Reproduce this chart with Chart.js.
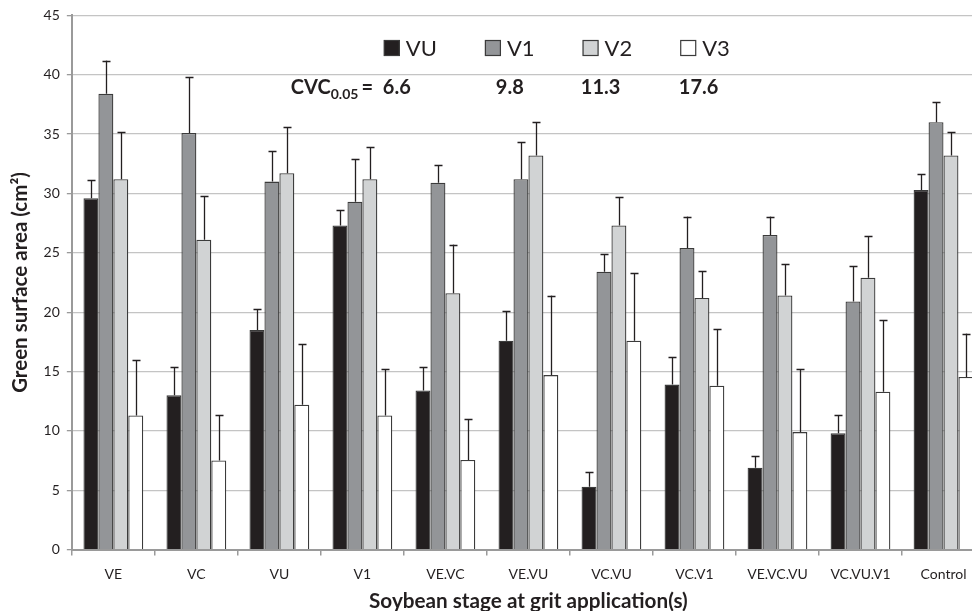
<!DOCTYPE html>
<html>
<head>
<meta charset="utf-8">
<script src="https://cdn.jsdelivr.net/npm/chart.js@4.4.0/dist/chart.umd.min.js"></script>
<style>
html,body{margin:0;padding:0;background:#fff;overflow:hidden;}
#wrap{width:972px;height:611px;overflow:hidden;position:relative;}
canvas{display:block;}
</style>
</head>
<body>
<div id="wrap"><canvas id="c" width="990" height="611"></canvas></div>
<script>
// ---- data ----
const categories = ['VE','VC','VU','V1','VE.VC','VE.VU','VC.VU','VC.V1','VE.VC.VU','VC.VU.V1','Control'];
const seriesNames = ['VU','V1','V2','V3'];
const vuValues = [29.6, 13.0, 18.5, 27.3, 13.4, 17.6, 5.3, 13.9, 6.9, 9.8, 30.3];
const vuErrors = [1.5, 2.4, 1.75, 1.3, 2.0, 2.5, 1.2, 2.3, 1.0, 1.5, 1.3];
const v1Values = [38.4, 35.1, 31.0, 29.3, 30.9, 31.2, 23.4, 25.4, 26.5, 20.9, 36.0];
const v1Errors = [2.8, 4.7, 2.6, 3.6, 1.5, 3.1, 1.5, 2.65, 1.55, 3.0, 1.7];
const v2Values = [31.2, 26.1, 31.7, 31.2, 21.6, 33.2, 27.3, 21.2, 21.4, 22.9, 33.2];
const v2Errors = [4.0, 3.65, 3.9, 2.7, 4.1, 2.8, 2.4, 2.3, 2.65, 3.5, 2.0];
const v3Values = [11.3, 7.5, 12.2, 11.3, 7.55, 14.7, 17.6, 13.8, 9.9, 13.3, 14.55];
const v3Errors = [4.7, 3.8, 5.1, 3.9, 3.45, 6.7, 5.7, 4.8, 5.3, 6.0, 3.65];
const cvcValues = ['6.6', '9.8', '11.3', '17.6'];
const yTicks = {min: 0, max: 45, step: 5};

const fills = ['#231f20', '#939598', '#d1d3d4', '#ffffff'];
const FONT = 'Lato, "Open Sans", sans-serif';
const TXT = '#231f20';

const allValues = [vuValues, v1Values, v2Values, v3Values];
const allErrors = [vuErrors, v1Errors, v2Errors, v3Errors];

const datasets = seriesNames.map((n, i) => ({
  label: n,
  data: allValues[i],
  errors: allErrors[i],
  backgroundColor: fills[i],
  borderColor: '#3b3b3b',
  borderWidth: 1.3,
  borderSkipped: 'bottom',
  barPercentage: 1.0,
  categoryPercentage: 0.72
}));

const errorBars = {
  id: 'errorBars',
  afterDatasetsDraw(chart) {
    const ctx = chart.ctx;
    const y = chart.scales.y;
    ctx.save();
    ctx.strokeStyle = '#231f20';
    ctx.lineWidth = 1.3;
    chart.data.datasets.forEach((ds, di) => {
      const meta = chart.getDatasetMeta(di);
      meta.data.forEach((bar, i) => {
        const v = ds.data[i], e = ds.errors[i];
        const y0 = y.getPixelForValue(v);
        const y1 = y.getPixelForValue(v + e);
        const x = Math.round(bar.x) + 0.5;
        ctx.beginPath();
        ctx.moveTo(x, y0);
        ctx.lineTo(x, y1);
        ctx.moveTo(x - 4, Math.round(y1) + 0.5);
        ctx.lineTo(x + 4, Math.round(y1) + 0.5);
        ctx.stroke();
      });
    });
    ctx.restore();
  }
};

const overlay = {
  id: 'overlay',
  afterDraw(chart) {
    const ctx = chart.ctx;
    const ca = chart.chartArea;
    ctx.save();
    // legend
    ctx.font = '22px ' + FONT;
    ctx.textBaseline = 'middle';
    let x = ca.left + 312;
    const ly = 48;
    const box = 16;
    chart.data.datasets.forEach((ds) => {
      ctx.fillStyle = ds.backgroundColor;
      ctx.fillRect(x, ly - box / 2, box, box);
      ctx.strokeStyle = '#3b3b3b';
      ctx.lineWidth = 1.2;
      ctx.strokeRect(x + 0.5, ly - box / 2 + 0.5, box - 1, box - 1);
      ctx.fillStyle = TXT;
      ctx.textAlign = 'left';
      ctx.fillText(ds.label, x + box + 6, ly + 1);
      x += box + 6 + ctx.measureText(ds.label).width + 48;
    });
    // CVC line
    const by = 94;
    ctx.textBaseline = 'alphabetic';
    ctx.fillStyle = TXT;
    ctx.font = 'bold 20px ' + FONT;
    let cx = ca.left + 219;
    ctx.fillText('CVC', cx, by);
    cx += ctx.measureText('CVC').width;
    ctx.font = 'bold 14px ' + FONT;
    ctx.fillText('0.05', cx, by + 5);
    cx += ctx.measureText('0.05').width + 3;
    ctx.font = 'bold 20px ' + FONT;
    ctx.fillText('=', cx, by);
    const offs = [311, 424, 509, 607];
    cvcValues.forEach((t, i) => ctx.fillText(t, ca.left + offs[i], by));
    ctx.restore();
  }
};

new Chart(document.getElementById('c'), {
  type: 'bar',
  data: { labels: categories, datasets },
  options: {
    responsive: false,
    animation: false,
    devicePixelRatio: 1,
    layout: { padding: { left: 8, right: 5, top: 8, bottom: 1 } },
    plugins: {
      legend: { display: false },
      tooltip: { enabled: false }
    },
    scales: {
      x: {
        offset: true,
        grid: {
          offset: true,
          drawOnChartArea: false,
          drawTicks: true,
          tickLength: 6,
          color: '#9a9a9a',
          lineWidth: 1.5
        },
        border: { color: '#9a9a9a', width: 2 },
        ticks: { color: TXT, font: { family: FONT, size: 14 }, padding: 10, maxRotation: 0, autoSkip: false },
        title: {
          display: true,
          text: 'Soybean stage at grit application(s)',
          color: TXT,
          font: { family: FONT, size: 20.7, weight: 'bold', lineHeight: 0.85 },
          padding: { top: 0, bottom: 0 }
        }
      },
      y: {
        min: yTicks.min,
        max: yTicks.max,
        ticks: { stepSize: yTicks.step, color: TXT, font: { family: FONT, size: 14 }, padding: 7 },
        grid: {
          color: (c) => c.tick && c.tick.value === 0 ? 'rgba(0,0,0,0)' : '#c4c4c4',
          lineWidth: 1.3,
          borderDash: [6, 4],
          drawTicks: true,
          tickLength: 5,
          tickColor: '#9a9a9a',
          tickBorderDash: []
        },
        border: { color: '#9a9a9a', width: 2 },
        title: {
          display: true,
          text: 'Green surface area (cm²)',
          color: TXT,
          font: { family: FONT, size: 20.5, weight: 'bold' },
          padding: { top: 0, bottom: 4 }
        }
      }
    }
  },
  plugins: [errorBars, overlay]
});
</script>
</body>
</html>
